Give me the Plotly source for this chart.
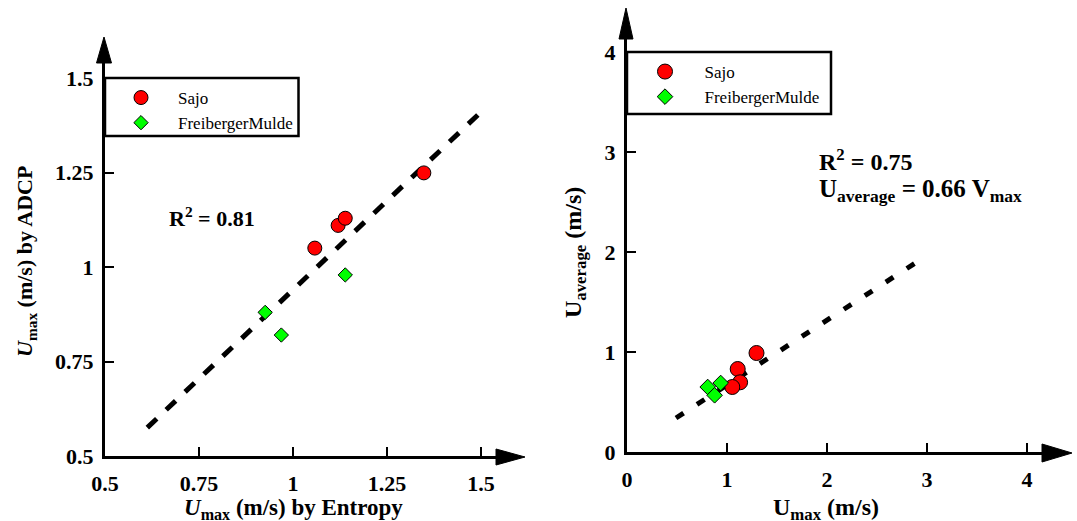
import plotly.graph_objects as go

W, H = 1077, 521

# ---- data: left panel (Umax entropy vs ADCP)
sajo_entropy = [1.058, 1.12, 1.139, 1.348]
sajo_adcp = [1.05, 1.11, 1.129, 1.249]
fm_entropy = [0.926, 0.969, 1.139]
fm_adcp = [0.88, 0.82, 0.979]
fit1_x = [0.6125, 1.502]
fit1_y = [0.575, 1.412]
ticks1 = [0.5, 0.75, 1, 1.25, 1.5]
ticklabels1 = ["0.5", "0.75", "1", "1.25", "1.5"]

# ---- data: right panel (Umax vs Uaverage)
sajo_umax = [1.295, 1.107, 1.131, 1.053]
sajo_uavg = [0.99, 0.83, 0.697, 0.65]
fm_umax = [0.807, 0.876, 0.937]
fm_uavg = [0.65, 0.567, 0.69]
fit2_x = [0.49, 2.96]
fit2_y = [0.34, 1.94]
ticks2 = [0, 1, 2, 3, 4]
ticklabels2 = ["0", "1", "2", "3", "4"]

FONT = "'Liberation Serif', 'Times New Roman', Times, 'DejaVu Serif', serif"
RED = "#ff0000"
GREEN = "#00ff00"


def px(x):
    return x / W


def py(y):
    return 1 - y / H


fig = go.Figure()

# left panel traces
fig.add_trace(go.Scatter(x=fit1_x, y=fit1_y, mode="lines", showlegend=False,
                         line=dict(color="black", width=5, dash="13px,13px"),
                         xaxis="x", yaxis="y"))
fig.add_trace(go.Scatter(x=sajo_entropy, y=sajo_adcp, mode="markers", name="Sajo",
                         marker=dict(symbol="circle", size=14, color=RED,
                                     line=dict(color="black", width=1)),
                         xaxis="x", yaxis="y", legend="legend"))
fig.add_trace(go.Scatter(x=fm_entropy, y=fm_adcp, mode="markers", name="FreibergerMulde",
                         marker=dict(symbol="diamond", size=11, color=GREEN,
                                     line=dict(color="black", width=1)),
                         xaxis="x", yaxis="y", legend="legend"))

# right panel traces
fig.add_trace(go.Scatter(x=fit2_x, y=fit2_y, mode="lines", showlegend=False,
                         line=dict(color="black", width=5, dash="9px,16px"),
                         xaxis="x2", yaxis="y2"))
fig.add_trace(go.Scatter(x=sajo_umax, y=sajo_uavg, mode="markers", name="Sajo",
                         marker=dict(symbol="circle", size=15, color=RED,
                                     line=dict(color="black", width=1)),
                         xaxis="x2", yaxis="y2", legend="legend2"))
fig.add_trace(go.Scatter(x=fm_umax, y=fm_uavg, mode="markers", name="FreibergerMulde",
                         marker=dict(symbol="diamond", size=12, color=GREEN,
                                     line=dict(color="black", width=1)),
                         xaxis="x2", yaxis="y2", legend="legend2"))

tickfont = dict(family=FONT, size=22, color="black", weight="bold")
common = dict(showgrid=False, zeroline=False, showline=True, linecolor="black",
              linewidth=3, ticks="inside", ticklen=9, tickwidth=2, tickcolor="black",
              tickfont=tickfont, fixedrange=True, automargin=False)
xcommon = dict(ticklabelstandoff=6, **common)
ycommon = dict(ticklabelstandoff=4, **common)

# axes geometry (pixels)
L_x0, L_xe, L_s = 105, 500, 376.0
L_y0, L_ye, L_sy = 456, 63, 378.0
R_x0, R_xe, R_s = 627, 1045, 100.0
R_y0, R_ye, R_sy = 452, 39, 100.0

fig.update_layout(
    template="none",
    width=W, height=H, margin=dict(l=0, r=0, t=0, b=0, autoexpand=False),
    paper_bgcolor="white", plot_bgcolor="rgba(0,0,0,0)",
    font=dict(family=FONT, color="black"),
    xaxis=dict(domain=[px(L_x0), px(L_xe)], range=[0.5, 0.5 + (L_xe - L_x0) / L_s],
               tickvals=ticks1, ticktext=ticklabels1, anchor="y", **xcommon),
    yaxis=dict(domain=[py(L_y0), py(L_ye)], range=[0.5, 0.5 + (L_y0 - L_ye) / L_sy],
               tickvals=ticks1, ticktext=ticklabels1, anchor="x", **ycommon),
    xaxis2=dict(domain=[px(R_x0), px(R_xe)], range=[0, (R_xe - R_x0) / R_s],
                tickvals=ticks2, ticktext=ticklabels2, anchor="y2", **xcommon),
    yaxis2=dict(domain=[py(R_y0), py(R_ye)], range=[0, (R_y0 - R_ye) / R_sy],
                tickvals=ticks2, ticktext=ticklabels2, anchor="x2", **ycommon),
    legend=dict(x=px(104), y=py(80), xanchor="left", yanchor="top",
                bgcolor="rgba(0,0,0,0)", borderwidth=0, itemwidth=64,
                font=dict(family=FONT, size=17, color="black"), tracegroupgap=0),
    legend2=dict(x=px(625.5), y=py(54), xanchor="left", yanchor="top",
                 bgcolor="rgba(0,0,0,0)", borderwidth=0, itemwidth=69,
                 font=dict(family=FONT, size=17, color="black"), tracegroupgap=0),
)

shapes = []
# legend boxes
shapes.append(dict(type="rect", xref="paper", yref="paper", x0=px(105), x1=px(298.5),
                   y0=py(136), y1=py(78), line=dict(color="black", width=2.5)))
shapes.append(dict(type="rect", xref="paper", yref="paper", x0=px(627), x1=px(831),
                   y0=py(114), y1=py(52), line=dict(color="black", width=2.5)))


def arrow_right(xb, xt, yc, hw):
    return dict(type="path", xref="paper", yref="paper",
                path=f"M {px(xb)} {py(yc - hw)} L {px(xt)} {py(yc)} L {px(xb)} {py(yc + hw)} Z",
                fillcolor="black", line=dict(color="black", width=1))


def arrow_up(yb, yt, xc, hw):
    return dict(type="path", xref="paper", yref="paper",
                path=f"M {px(xc - hw)} {py(yb)} L {px(xc)} {py(yt)} L {px(xc + hw)} {py(yb)} Z",
                fillcolor="black", line=dict(color="black", width=1))


shapes.append(arrow_right(496, 525, L_y0 + 1, 8))
shapes.append(arrow_up(63, 37, L_x0 - 1, 7.5))
shapes.append(arrow_right(1042, 1072, R_y0 + 1, 9))
shapes.append(arrow_up(39, 8, R_x0 - 1, 7))
fig.update_layout(shapes=shapes)

bold = dict(family=FONT, color="black", weight="bold")
ann = []
ann.append(dict(text="<i>U</i><sub>max</sub> (m/s) by ADCP", x=px(26), y=py(262),
                textangle=-90, xanchor="center", yanchor="middle", font=dict(size=22, **bold)))
ann.append(dict(text="<i>U</i><sub>max</sub> (m/s) by Entropy", x=px(293), y=py(509),
                xanchor="center", yanchor="middle", font=dict(size=23, **bold)))
ann.append(dict(text="U<sub>average</sub> (m/s)", x=px(575), y=py(253),
                textangle=-90, xanchor="center", yanchor="middle", font=dict(size=24, **bold)))
ann.append(dict(text="U<sub>max</sub> (m/s)", x=px(826), y=py(509),
                xanchor="center", yanchor="middle", font=dict(size=24, **bold)))
ann.append(dict(text="R<sup>2</sup> = 0.81", x=px(167), y=py(217), xanchor="left",
                yanchor="middle", font=dict(size=22, **bold)))
ann.append(dict(text="R<sup>2</sup> = 0.75", x=px(817), y=py(160), xanchor="left",
                yanchor="middle", font=dict(size=24, **bold)))
ann.append(dict(text="U<sub>average</sub> = 0.66 V<sub>max</sub>", x=px(817), y=py(190),
                xanchor="left", yanchor="middle", font=dict(size=25, **bold)))
for a in ann:
    a.update(xref="paper", yref="paper", showarrow=False)
fig.update_layout(annotations=ann)

fig.write_html("out.html")
